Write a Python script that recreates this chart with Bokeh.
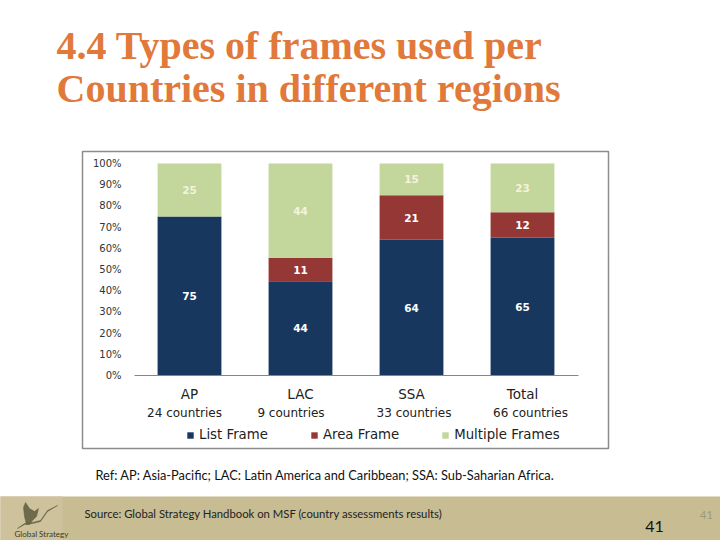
from bokeh.plotting import figure
from bokeh.core.properties import value
from bokeh.models import (ColumnDataSource, FixedTicker, PrintfTickFormatter, LinearAxis,
                          LabelSet, Label, BoxAnnotation, PolyAnnotation, Range1d)
from bokeh.embed import file_html
from bokeh.resources import INLINE

regions = ["AP", "LAC", "SSA", "Total"]
country_counts = ["24 countries", "9 countries", "33 countries", "66 countries"]
list_frame = [75, 44, 64, 65]
area_frame = [0, 11, 21, 12]
multiple_frames = [25, 44, 15, 23]
series_names = ["List Frame", "Area Frame", "Multiple Frames"]
series_colors = ["#17375E", "#953735", "#C3D69B"]
y_ticks = [0, 10, 20, 30, 40, 50, 60, 70, 80, 90, 100]
title_lines = ["4.4 Types of frames used per", "Countries in different regions"]
ref_note = "Ref: AP: Asia-Pacific; LAC: Latin America and Caribbean; SSA: Sub-Saharian Africa."
source_note = "Source: Global Strategy  Handbook on MSF (country assessments results)"
page_number = "41"

W, H = 720, 540
# plot placement on the page, in pixels
CAT0_X, CAT_W = 189.0, 111.0
ZERO_Y, PCT_H = 375.0, 2.12


def sx(x):
    return x


def sy(y):
    return H - y


# 100 % stacked shares, as in the original chart
totals = [a + b + c for a, b, c in zip(list_frame, area_frame, multiple_frames)]
s_list = [v / t * 100 for v, t in zip(list_frame, totals)]
s_area = [v / t * 100 for v, t in zip(area_frame, totals)]
s_mult = [v / t * 100 for v, t in zip(multiple_frames, totals)]
pos = list(range(len(regions)))

src = ColumnDataSource(dict(x=pos, lf=s_list, af=s_area, mf=s_mult))

p = figure(width=W, height=H, output_backend="svg", toolbar_location=None,
           x_range=Range1d((0 - CAT0_X) / CAT_W, (W - CAT0_X) / CAT_W),
           y_range=Range1d((ZERO_Y - H) / PCT_H, ZERO_Y / PCT_H),
           x_axis_type=None, y_axis_type=None,
           min_border=0, min_border_left=0, min_border_right=0, min_border_top=0, min_border_bottom=0)
p.background_fill_color = "white"
p.border_fill_color = "white"
p.outline_line_color = None
p.grid.visible = False


# chart frame and footer band
def box(l, r, t, b, **kw):
    p.add_layout(BoxAnnotation(left=sx(l), right=sx(r), top=sy(t), bottom=sy(b),
                               left_units="screen", right_units="screen",
                               top_units="screen", bottom_units="screen", level="underlay", **kw))


box(82, 608, 151, 448, fill_alpha=0, line_color="#8C8C8C", line_alpha=1, line_width=1.5)
box(-2, W + 2, 496, H + 2, fill_color="#C8BC92", fill_alpha=1, line_color=None)
box(-2, 62, 496, H + 2, fill_color="#CDC29C", fill_alpha=1, line_color=None)

rs = p.vbar_stack(["lf", "af", "mf"], x="x", width=0.575, source=src, color=series_colors,
                  line_color=None, legend_label=series_names)

yaxis = LinearAxis(fixed_location=-0.495, bounds=(0, 100), ticker=FixedTicker(ticks=y_ticks),
                   formatter=PrintfTickFormatter(format="%d%%"))
yaxis.axis_line_color = None
yaxis.major_tick_line_color = None
yaxis.minor_tick_line_color = None
yaxis.major_label_standoff = 7
yaxis.major_label_text_font = "DejaVu Sans"
yaxis.major_label_text_font_size = "10px"
yaxis.major_label_text_color = "#333333"
p.add_layout(yaxis, "left")

xaxis = LinearAxis(fixed_location=0, bounds=(-0.495, 3.5), ticker=FixedTicker(ticks=pos),
                   major_label_overrides={i: r for i, r in zip(pos, regions)})
xaxis.axis_line_color = "#868686"
xaxis.axis_line_width = 1
xaxis.major_tick_line_color = None
xaxis.minor_tick_line_color = None
xaxis.major_label_standoff = 4
xaxis.major_label_text_font = "DejaVu Sans"
xaxis.major_label_text_font_size = "13.5px"
xaxis.major_label_text_color = "#222222"
p.add_layout(xaxis, "below")

# data labels, centred in each segment
rows = []
for i in pos:
    base = 0
    for vals, shares, col in ((list_frame, s_list, "white"), (area_frame, s_area, "white"),
                              (multiple_frames, s_mult, "#F5F3DC")):
        if vals[i]:
            rows.append((i, base + shares[i] / 2, str(vals[i]), col))
        base += shares[i]
lab_src = ColumnDataSource(dict(x=[a[0] for a in rows], y=[a[1] for a in rows],
                                t=[a[2] for a in rows], c=[a[3] for a in rows]))
p.add_layout(LabelSet(x="x", y="y", text="t", source=lab_src, text_color="c",
                      text_font=value("DejaVu Sans"), text_font_style="bold", text_font_size="10.5px",
                      text_align="center", text_baseline="middle"))

# legend
lg = p.legend[0]
lg.orientation = "horizontal"
lg.location = (186, H - 442)
lg.border_line_color = None
lg.background_fill_alpha = 0
lg.padding = 0
lg.margin = 0
lg.spacing = 42
lg.glyph_width = 8
lg.glyph_height = 8
lg.label_standoff = 5
lg.label_height = 12
lg.label_text_font = "DejaVu Sans"
lg.label_text_font_size = "13.3px"
lg.label_text_color = "#222222"


def text(x, y, t, font, size, color, style="normal", align="left", base="alphabetic"):
    p.add_layout(Label(x=sx(x), y=sy(y), x_units="screen", y_units="screen", text=t, text_font=font,
                       text_font_size=size, text_color=color, text_font_style=style,
                       text_align=align, text_baseline=base))


# titles
text(56, 45, title_lines[0], "Liberation Serif", "40px", "#E0793A", "bold")
text(56, 88, title_lines[1], "Liberation Serif", "40px", "#E0793A", "bold")

# second line of the category labels
for x, t in zip((184, 290.5, 413.5, 530), country_counts):
    text(x, 412, t, "DejaVu Sans", "12px", "#222222", align="center", base="middle")

text(95, 474, ref_note, "Lato", "12.8px", "#111111", base="middle")
text(84, 513, source_note, "Lato", "11.3px", "#222222", base="middle")
text(654, 526, page_number, "Lato", "16px", "#111111", align="center", base="middle")
text(706, 514, page_number, "Lato", "11px", "#9A9A80", align="center", base="middle")
text(14, 533, "Global Strategy", "Lato", "8px", "#3A3A26", base="middle")

# logo: stylised wheat ear
for xs, ys in (([26, 24, 23, 25, 29, 34, 38, 36, 32, 29], [524, 516, 507, 502, 508, 511, 508, 516, 520, 524]),
               ([17, 24, 32, 40, 47, 57, 47, 40, 32, 24], [528, 523, 522, 520, 510, 505, 511, 521, 523, 524])):
    p.add_layout(PolyAnnotation(xs=[sx(v) for v in xs], ys=[sy(v) for v in ys],
                                xs_units="screen", ys_units="screen",
                                fill_color="#6E6A4C", fill_alpha=1, line_color="#5E5E3C", line_alpha=1, line_width=0.5))

open("out.html", "w").write(file_html(p, INLINE))
